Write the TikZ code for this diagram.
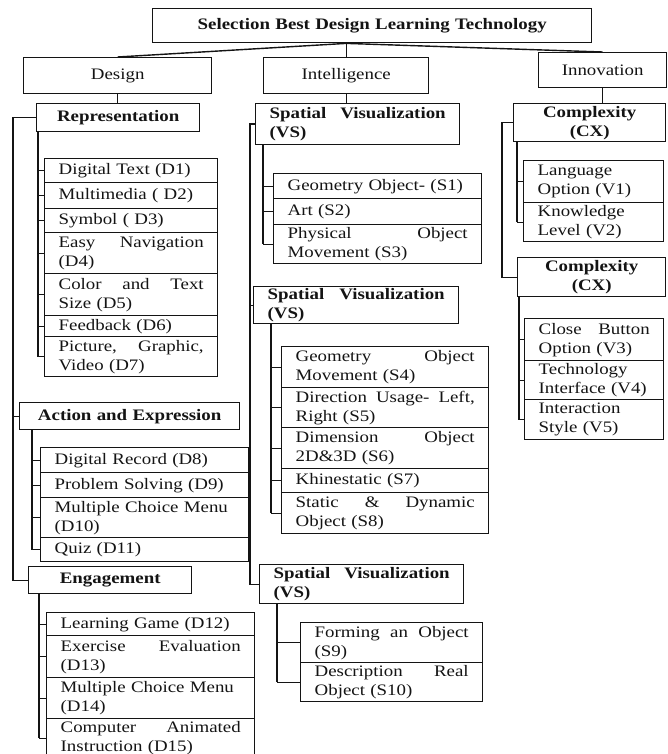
\documentclass[tikz,border=0pt]{standalone}
\usepackage{fontspec}
\setmainfont{Liberation Serif}[FakeStretch=1.18]
\definecolor{ln}{HTML}{141414}
\definecolor{tx}{HTML}{141414}
\newcommand\fs{\fontsize{16}{19}\selectfont}
\newcommand\mkbox[7]{%
  \pgfmathsetmacro\bxw{#5-#3}%
  \pgfmathsetmacro\bxh{#6-#4}%
  \pgfmathsetmacro\bxt{#5-#3-28}%
  \node[#1,minimum width=\bxw pt,minimum height=\bxh pt,text width=\bxt pt] (#2) at (#3,#4) {#7};}
\tikzset{
  bx/.style={draw=ln, line width=1.4pt, anchor=north west, inner xsep=14pt, inner ysep=1pt, font=\fs, text=tx, align=left},
  hd/.style={bx, font=\fs\bfseries, align=center},
  hdl/.style={bx, font=\fs\bfseries, align=left},
  rg/.style={bx, align=center},
  ln/.style={draw=ln, line width=1.4pt},
}
\begin{document}
\begin{tikzpicture}[x=1pt,y=-1pt]
\useasboundingbox[fill=white] (0,0) rectangle (668,754);
% top level
\mkbox{hd}{title}{152}{8}{591}{42}{Selection Best Design Learning Technology}
\mkbox{rg}{design}{23}{57}{211}{93}{Design}
\mkbox{rg}{intel}{263}{57}{428}{93}{Intelligence}
\mkbox{rg}{innov}{538}{52}{666}{87}{Innovation}
% design column
\mkbox{hd}{rep}{36}{103}{199}{131}{Representation}
\mkbox{bx}{d1}{44}{158}{217}{182}{Digital Text (D1)}
\mkbox{bx}{d2}{44}{182}{217}{208}{Multimedia ( D2)}
\mkbox{bx}{d3}{44}{208}{217}{232}{Symbol ( D3)}
\mkbox{bx}{d4}{44}{232}{217}{273}{Easy\hfill Navigation\\(D4)}
\mkbox{bx}{d5}{44}{273}{217}{315}{Color\hfill and\hfill Text\\Size (D5)}
\mkbox{bx}{d6}{44}{315}{217}{336}{Feedback (D6)}
\mkbox{bx}{d7}{44}{336}{217}{376}{Picture,\hfill Graphic,\\Video (D7)}
\mkbox{hd}{act}{19}{402}{239}{429}{Action and Expression}
\mkbox{bx}{d8}{40}{447}{248}{472}{Digital Record (D8)}
\mkbox{bx}{d9}{40}{472}{248}{497}{Problem Solving (D9)}
\mkbox{bx}{d10}{40}{497}{248}{537}{Multiple Choice Menu\\(D10)}
\mkbox{bx}{d11}{40}{537}{248}{561}{Quiz (D11)}
\mkbox{hd}{eng}{28}{566}{191}{593}{Engagement}
\mkbox{bx}{d12}{46}{612}{254}{635}{Learning Game (D12)}
\mkbox{bx}{d13}{46}{635}{254}{677}{Exercise\hfill Evaluation\\(D13)}
\mkbox{bx}{d14}{46}{677}{254}{718}{Multiple Choice Menu\\(D14)}
\mkbox{bx}{d15}{46}{718}{254}{757}{Computer\hfill Animated\\Instruction (D15)}
% intelligence column
\mkbox{hdl}{sv1}{255}{103}{459}{144}{Spatial\hfill Visualization\\(VS)}
\mkbox{bx}{s1}{273}{173}{481}{198}{Geometry Object- (S1)}
\mkbox{bx}{s2}{273}{198}{481}{224}{Art (S2)}
\mkbox{bx}{s3}{273}{224}{481}{263}{Physical\hfill Object\\Movement (S3)}
\mkbox{hdl}{sv2}{253}{286}{458}{323}{Spatial\hfill Visualization\\(VS)}
\mkbox{bx}{s4}{281}{346}{488}{387}{Geometry\hfill Object\\Movement (S4)}
\mkbox{bx}{s5}{281}{387}{488}{427}{Direction\hfill Usage-\hfill Left,\\Right (S5)}
\mkbox{bx}{s6}{281}{427}{488}{468}{Dimension\hfill Object\\2D\&3D (S6)}
\mkbox{bx}{s7}{281}{468}{488}{492}{Khinestatic (S7)}
\mkbox{bx}{s8}{281}{492}{488}{533}{Static\hfill\&\hfill Dynamic\\Object (S8)}
\mkbox{hdl}{sv3}{259}{564}{463}{603}{Spatial\hfill Visualization\\(VS)}
\mkbox{bx}{s9}{300}{622}{482}{662}{Forming\hfill an\hfill Object\\(S9)}
\mkbox{bx}{s10}{300}{662}{482}{701}{Description\hfill Real\\Object (S10)}
% innovation column
\mkbox{hd}{cx1}{513}{103}{665}{141}{Complexity\\(CX)}
\mkbox{bx}{v1}{523}{160}{663}{202}{Language\\Option (V1)}
\mkbox{bx}{v2}{523}{202}{663}{241}{Knowledge\\Level (V2)}
\mkbox{hd}{cx2}{517}{257}{665}{296}{Complexity\\(CX)}
\mkbox{bx}{v3}{524}{318}{663}{360}{Close\hfill Button\\Option (V3)}
\mkbox{bx}{v4}{524}{360}{663}{399}{Technology\\Interface (V4)}
\mkbox{bx}{v5}{524}{399}{663}{439}{Interaction\\Style (V5)}
% connectors from title
\coordinate (tb) at (title.south -| intel.north);
\draw[ln] (tb) -- (design.north);
\draw[ln] (tb) -- (intel.north);
\draw[ln] (tb) -- (innov.north);
\draw[ln] (design.south) -- (design.south |- rep.north);
\draw[ln] (intel.south) -- (intel.south |- sv1.north);
\draw[ln] (innov.south) -- (innov.south |- cx1.north);
% spines
\coordinate (ds) at (13,0);
\coordinate (is) at (250,0);
\coordinate (ns) at (502,0);
\draw[ln] (rep.west) -| (ds |- eng.west) -- (eng.west);
\draw[ln] (ds |- act.west) -- (act.west);
\draw[ln] (sv1.west) -| (is |- sv3.west) -- (sv3.west);
\draw[ln] (is |- sv2.west) -- (sv2.west);
\draw[ln] (cx1.west) -| (ns |- cx2.west) -- (cx2.west);
% brackets
\coordinate (rb) at (38,0);
\draw[ln] (rep.south -| rb) -- (rb |- d7.west);
\foreach \n in {d1,d2,d3,d4,d5,d6,d7} \draw[ln] (rb |- \n.west) -- (\n.west);
\coordinate (ab) at (32,0);
\draw[ln] (act.south -| ab) -- (ab |- d11.west);
\foreach \n in {d8,d9,d10,d11} \draw[ln] (ab |- \n.west) -- (\n.west);
\coordinate (eb) at (39,0);
\draw[ln] (eng.south -| eb) -- (eb |- d15.west);
\foreach \n in {d12,d13,d14,d15} \draw[ln] (eb |- \n.west) -- (\n.west);
\coordinate (b1) at (263,0);
\draw[ln] (sv1.south -| b1) -- (b1 |- s3.west);
\foreach \n in {s1,s2,s3} \draw[ln] (b1 |- \n.west) -- (\n.west);
\coordinate (b2) at (271,0);
\draw[ln] (sv2.south -| b2) -- (b2 |- s8.west);
\foreach \n in {s4,s5,s6,s7,s8} \draw[ln] (b2 |- \n.west) -- (\n.west);
\coordinate (b3) at (277,0);
\draw[ln] (sv3.south -| b3) -- (b3 |- s10.west);
\foreach \n in {s9,s10} \draw[ln] (b3 |- \n.west) -- (\n.west);
\coordinate (c1) at (517,0);
\draw[ln] (cx1.south -| c1) -- (c1 |- v2.west);
\foreach \n in {v1,v2} \draw[ln] (c1 |- \n.west) -- (\n.west);
\coordinate (c2) at (519,0);
\draw[ln] (cx2.south -| c2) -- (c2 |- v5.west);
\foreach \n in {v3,v4,v5} \draw[ln] (c2 |- \n.west) -- (\n.west);
\end{tikzpicture}
\end{document}
